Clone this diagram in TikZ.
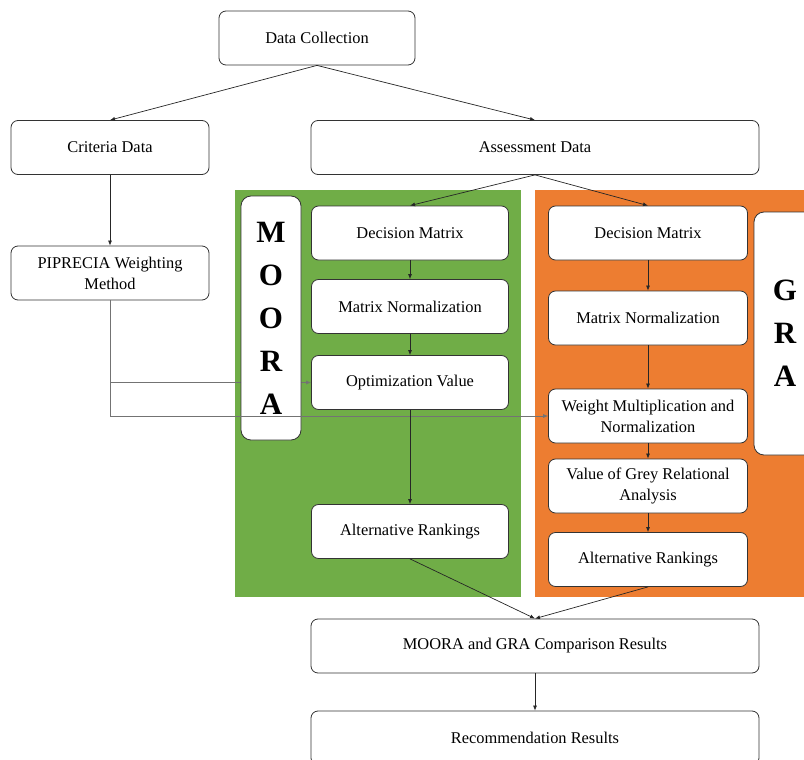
\documentclass[tikz,border=0pt]{standalone}
\usepackage{fontspec}
\setmainfont{Liberation Serif}
\usetikzlibrary{arrows.meta,positioning}
\definecolor{mooragreen}{HTML}{70AD47}
\definecolor{graorange}{HTML}{ED7D31}

\begin{document}
\begin{tikzpicture}[
    x=1pt, y=-1pt,
    box/.style={draw=black!80, line width=0.8pt, rounded corners=7pt, fill=white, align=center, minimum height=54pt, font=\fontsize{16.4}{21}\selectfont, inner sep=2pt},
    wide/.style={box, minimum width=448pt},
    side/.style={box, minimum width=198pt},
    mbox/.style={box, minimum width=197pt},
    gbox/.style={box, minimum width=199pt},
    method/.style={draw=black!80, line width=0.8pt, rounded corners=10pt, fill=white, align=center, font=\fontsize{31}{43}\selectfont\bfseries},
    arrow/.style={-{Latex[length=5pt,width=4pt]}, draw=black!85, line width=0.7pt},
    feed/.style={-{Latex[length=5pt,width=4pt]}, draw=black!55, line width=0.7pt}
]
\useasboundingbox (0,0) rectangle (804,760);
\fill[mooragreen] (235,190) rectangle (521,597);
\fill[graorange] (535,190) rectangle (812,597);

\node[box, minimum width=196pt] (collect) at (317,38) {Data Collection};
\node[side] (crit) at (110,147.5) {Criteria Data};
\node[wide] (assess) at (535,147.5) {Assessment Data};
\node[side] (pip) at (110,273) {PIPRECIA Weighting\\Method};

% MOORA
\node[mbox] (mdm) at (410,233) {Decision Matrix};
\node[mbox] (mnorm) at (410,306.5) {Matrix Normalization};
\node[mbox] (mopt) at (410,382.5) {Optimization Value};
\node[mbox] (mrank) at (410,531.5) {Alternative Rankings};

% GRA
\node[gbox] (gdm) at (648,233) {Decision Matrix};
\node[gbox] (gnorm) at (648,318) {Matrix Normalization};
\node[gbox] (gweight) at (648,416) {Weight Multiplication and\\Normalization};
\node[gbox] (gvalue) at (648,486) {Value of Grey Relational\\Analysis};
\node[gbox] (grank) at (648,559.5) {Alternative Rankings};

\node[wide] (compare) at (535,646) {MOORA and GRA Comparison Results};
\node[wide] (recom) at (535,738) {Recommendation Results};

\draw[feed] (pip.south) |- (mopt.west);
\node[method, minimum width=60pt, minimum height=244pt] (moora) at (271,318) {M\\O\\O\\R\\A};
\draw[feed] (pip.south) |- (gweight.west);
\node[method, minimum width=62pt, minimum height=243pt] (gra) at (785,333.5) {G\\R\\A};

\draw[arrow] (collect.south) -- (crit.north);
\draw[arrow] (collect.south) -- (assess.north);
\draw[arrow] (crit) -- (pip);
\draw[arrow] (assess.south) -- (mdm.north);
\draw[arrow] (assess.south) -- (gdm.north);
\draw[arrow] (mdm) -- (mnorm);
\draw[arrow] (mnorm) -- (mopt);
\draw[arrow] (mopt) -- (mrank);
\draw[arrow] (gdm) -- (gnorm);
\draw[arrow] (gnorm) -- (gweight);
\draw[arrow] (gweight) -- (gvalue);
\draw[arrow] (gvalue) -- (grank);
\draw[arrow] (mrank.south) -- (compare.north);
\draw[arrow] (grank.south) -- (compare.north);
\draw[arrow] (compare) -- (recom);
\end{tikzpicture}
\end{document}
